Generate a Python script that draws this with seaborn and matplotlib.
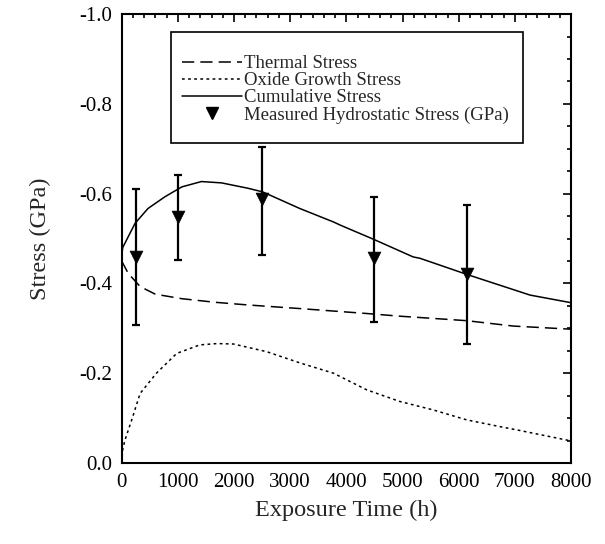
import matplotlib
matplotlib.use("Agg")
import matplotlib.pyplot as plt
import seaborn as sns
import numpy as np
from matplotlib.patches import Rectangle
from matplotlib.lines import Line2D
from matplotlib.ticker import MultipleLocator

# ---- data ----
thermal_x = [0, 120, 330, 600, 1070, 1660, 2250, 3170, 4360, 4950, 5550, 6140, 6970, 8000]
thermal_y = [-0.45, -0.422, -0.393, -0.376, -0.366, -0.358, -0.352, -0.344, -0.333,
             -0.327, -0.322, -0.317, -0.305, -0.298]

oxide_x = [0, 20, 60, 180, 330, 620, 980, 1390, 1700, 1990, 2580, 3170, 3770, 4360,
           4950, 5550, 6140, 6730, 7060, 8000]
oxide_y = [0.0, -0.03, -0.051, -0.096, -0.155, -0.20, -0.244, -0.263, -0.266, -0.265,
           -0.248, -0.223, -0.20, -0.163, -0.137, -0.118, -0.096, -0.081, -0.073, -0.049]

cumul_x = [0, 20, 240, 470, 770, 1070, 1420, 1780, 2250, 2510, 3170, 3770, 3890, 4490,
           5190, 5310, 6170, 7270, 8000]
cumul_y = [-0.46, -0.48, -0.534, -0.567, -0.593, -0.615, -0.627, -0.624, -0.612, -0.604,
           -0.567, -0.537, -0.530, -0.498, -0.459, -0.456, -0.419, -0.374, -0.357]

meas_x = [250, 1000, 2500, 4500, 6150]
meas_y = [-0.458, -0.549, -0.587, -0.456, -0.421]
meas_err_low = [0.151, 0.096, 0.123, 0.143, 0.156]   # toward 0
meas_err_high = [0.152, 0.092, 0.117, 0.136, 0.154]  # toward -1

x_ticks = [0, 1000, 2000, 3000, 4000, 5000, 6000, 7000, 8000]
y_ticks = [0.0, -0.2, -0.4, -0.6, -0.8, -1.0]
y_tick_labels = ["0.0", "-0.2", "-0.4", "-0.6", "-0.8", "-1.0"]

labels = ["Thermal Stress", "Oxide Growth Stress", "Cumulative Stress",
          "Measured Hydrostatic Stress (GPa)"]

# ---- style ----
sns.set_style("white")
plt.rcParams["font.family"] = ["Liberation Serif", "DejaVu Serif"]
plt.rcParams["axes.unicode_minus"] = False

fig = plt.figure(figsize=(6.05, 5.44), dpi=100)
ax = fig.add_axes([0.201, 0.149, 0.743, 0.825])

lw = 1.1
dash_th = (0, (8, 4))
dot_ox = (0, (1.8, 2.2))

sns.lineplot(x=thermal_x, y=thermal_y, ax=ax, color="black", lw=lw, linestyle=dash_th)
sns.lineplot(x=oxide_x, y=oxide_y, ax=ax, color="black", lw=lw, linestyle=dot_ox)
sns.lineplot(x=cumul_x, y=cumul_y, ax=ax, color="black", lw=lw, linestyle="-")

ax.errorbar(meas_x, meas_y, yerr=[meas_err_high, meas_err_low], fmt="none",
            ecolor="black", elinewidth=1.6, capsize=3.2, capthick=1.6, zorder=4)
sns.scatterplot(x=meas_x, y=meas_y, ax=ax, marker="v", s=85, color="black",
                edgecolor="black", linewidth=0.5, zorder=5)

ax.set_xlim(0, 8000)
ax.set_ylim(0, -1.0)
ax.set_xticks(x_ticks)
ax.set_xticklabels([str(t) for t in x_ticks])
ax.set_yticks(y_ticks)
ax.set_yticklabels(y_tick_labels)
ax.xaxis.set_minor_locator(MultipleLocator(200))
ax.yaxis.set_minor_locator(MultipleLocator(0.05))

ax.tick_params(which="both", direction="in", top=True, right=True, width=1.2,
               colors="black", labelsize=15)
ax.tick_params(which="major", length=6)
ax.tick_params(which="minor", length=3)
ax.tick_params(axis="x", pad=7)
ax.tick_params(axis="y", pad=7)
for s in ax.spines.values():
    s.set_linewidth(1.5)
    s.set_color("black")

ax.set_xlabel("Exposure Time (h)", fontsize=17.5, labelpad=6)
ax.set_ylabel("Stress (GPa)", fontsize=17.5, labelpad=20)

# legend
handles = [
    Line2D([], [], color="black", lw=lw, linestyle=dash_th),
    Line2D([], [], color="black", lw=lw, linestyle=dot_ox),
    Line2D([], [], color="black", lw=lw, linestyle="-"),
    Line2D([], [], color="black", marker="v", markersize=9, linestyle="none"),
]
leg = ax.legend(handles, labels, loc="upper left", bbox_to_anchor=(0.1336, 0.909),
                frameon=False, fontsize=13.5, handlelength=3.2, handletextpad=0.15,
                labelspacing=0.0, borderpad=0.0, borderaxespad=0.0)
ax.add_patch(Rectangle((0.1098, 0.7134), 0.783, 0.246, transform=ax.transAxes,
                       fill=False, edgecolor="black", lw=1.2, zorder=6))

fig.savefig("out.png", dpi=100, facecolor="white")
